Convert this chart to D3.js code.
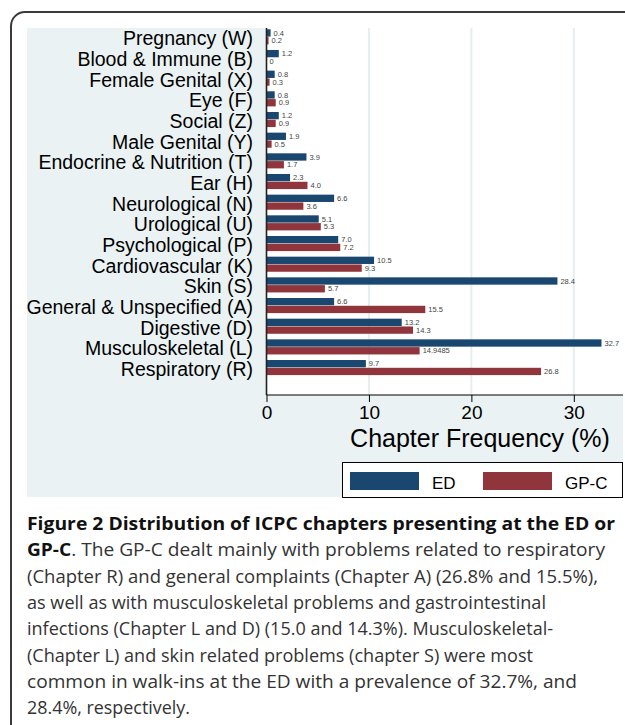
<!DOCTYPE html>
<html>
<head>
<meta charset="utf-8"/>
<title>ICPC chapters</title>
<script src="https://cdn.jsdelivr.net/npm/d3@7"></script>
<style>
html, body {
    margin: 0;
    padding: 0;
    background: #ffffff;
}
svg text {
    font-family: "Liberation Sans", Arial, sans-serif;
}
svg .caption {
    font-family: "Open Sans", "Noto Sans", sans-serif;
}
</style>
</head>
<body>

<svg id="chart" width="625" height="725"></svg>

<script>

// Chart data, top to bottom as drawn.
var categories = [
    "Pregnancy (W)", "Blood & Immune (B)", "Female Genital (X)", "Eye (F)",
    "Social (Z)", "Male Genital (Y)", "Endocrine & Nutrition (T)", "Ear (H)",
    "Neurological (N)", "Urological (U)", "Psychological (P)", "Cardiovascular (K)",
    "Skin (S)", "General & Unspecified (A)", "Digestive (D)", "Musculoskeletal (L)",
    "Respiratory (R)"
];
var edValues  = [0.4, 1.2, 0.8, 0.8, 1.2, 1.9, 3.9, 2.3, 6.6, 5.1, 7.0, 10.5, 28.4, 6.6, 13.2, 32.7, 9.7];
var gpcValues = [0.2, 0, 0.3, 0.9, 0.9, 0.5, 1.7, 4.0, 3.6, 5.3, 7.2, 9.3, 5.7, 15.5, 14.3, 14.9485, 26.8];
// bar labels as printed on the figure
var edLabels  = ["0.4", "1.2", "0.8", "0.8", "1.2", "1.9", "3.9", "2.3", "6.6", "5.1", "7.0", "10.5", "28.4", "6.6", "13.2", "32.7", "9.7"];
var gpcLabels = ["0.2", "0", "0.3", "0.9", "0.9", "0.5", "1.7", "4.0", "3.6", "5.3", "7.2", "9.3", "5.7", "15.5", "14.3", "14.9485", "26.8"];
var seriesNames = ["ED", "GP-C"];
var xTicks = [0, 10, 20, 30];
var axisTitle = "Chapter Frequency (%)";

var captionLines = [
    [{t: "Figure 2 Distribution of ICPC chapters presenting at the ED or", b: true}],
    [{t: "GP-C", b: true}, {t: ". The GP-C dealt mainly with problems related to respiratory", b: false}],
    [{t: "(Chapter R) and general complaints (Chapter A) (26.8% and 15.5%),", b: false}],
    [{t: "as well as with musculoskeletal problems and gastrointestinal", b: false}],
    [{t: "infections (Chapter L and D) (15.0 and 14.3%). Musculoskeletal-", b: false}],
    [{t: "(Chapter L) and skin related problems (chapter S) were most", b: false}],
    [{t: "common in walk-ins at the ED with a prevalence of 32.7%, and", b: false}],
    [{t: "28.4%, respectively.", b: false}]
];
var captionEnds = [615, 605, 598, 546, 553, 533, 577, 190];

const colors = {"ED": "#1a476f", "GP-C": "#90353b"};

var svg = d3.select("#chart");

// Outer figure frame (runs off the right and bottom edges).
svg.append("rect")
    .attr("x", 11).attr("y", 12)
    .attr("width", 660).attr("height", 760)
    .attr("rx", 14).attr("ry", 14)
    .attr("fill", "none")
    .attr("stroke", "#3a3a3a")
    .attr("stroke-width", 2);

// Graph region background.
svg.append("rect")
    .attr("x", 27).attr("y", 28)
    .attr("width", 596).attr("height", 469)
    .attr("fill", "#eaf2f3");

// Plot area.
const plot = {left: 266.5, right: 623, top: 28, bottom: 395};
svg.append("rect")
    .attr("x", plot.left).attr("y", plot.top)
    .attr("width", plot.right - plot.left).attr("height", plot.bottom - plot.top)
    .attr("fill", "#ffffff");

// Scales.
var x = d3.scaleLinear().domain([0, 34.8]).range([plot.left, plot.right]);
var y = d3.scaleBand().domain(categories).range([26.5, 377.9]).paddingInner(0.27).paddingOuter(0.135);
var y1 = d3.scaleBand().domain(seriesNames).range([0, y.bandwidth()]).paddingInner(0.06);

// Gridlines.
svg.append("g")
    .selectAll("line")
    .data(xTicks.filter(d => d > 0))
    .join("line")
    .attr("x1", d => x(d)).attr("x2", d => x(d))
    .attr("y1", plot.top).attr("y2", plot.bottom)
    .attr("stroke", "#e6eef0")
    .attr("stroke-width", 2);

// Bars.
var rows = categories.map(function(c, i) {
    return {cat: c, vals: [
        {s: "ED", v: edValues[i], label: edLabels[i]},
        {s: "GP-C", v: gpcValues[i], label: gpcLabels[i]}
    ]};
});

var groups = svg.append("g")
    .selectAll("g")
    .data(rows)
    .join("g")
    .attr("transform", d => "translate(0," + y(d.cat) + ")");

groups.selectAll("rect")
    .data(d => d.vals)
    .join("rect")
    .attr("x", x(0))
    .attr("y", d => y1(d.s))
    .attr("width", d => x(d.v) - x(0))
    .attr("height", y1.bandwidth())
    .attr("fill", d => colors[d.s]);

groups.selectAll("text")
    .data(d => d.vals)
    .join("text")
    .attr("x", d => x(d.v) + 3)
    .attr("y", d => y1(d.s) + y1.bandwidth() / 2)
    .attr("dy", "0.35em")
    .style("font-size", "7.5px")
    .attr("fill", "#444444")
    .text(d => d.label);

// Category labels.
svg.append("g")
    .selectAll("text")
    .data(categories)
    .join("text")
    .attr("x", 253)
    .attr("y", d => y(d) + y.bandwidth() / 2 + 8.5)
    .attr("text-anchor", "end")
    .style("font-size", "19.5px")
    .attr("fill", "#000000")
    .text(d => d);

// Y axis line.
svg.append("line")
    .attr("x1", plot.left).attr("x2", plot.left)
    .attr("y1", plot.top).attr("y2", plot.bottom)
    .attr("stroke", "#222222")
    .attr("stroke-width", 1.6);

// X axis.
var xAxis = svg.append("g")
    .attr("transform", "translate(0," + plot.bottom + ")")
    .call(d3.axisBottom(x).tickValues(xTicks).tickSize(7).tickPadding(4).tickFormat(d3.format("d")));
xAxis.select(".domain")
    .attr("d", "M" + plot.left + ",0H" + plot.right)
    .attr("stroke", "#000000")
    .attr("stroke-width", 1.2);
xAxis.selectAll(".tick line").attr("stroke", "#000000");
xAxis.selectAll(".tick text")
    .attr("fill", "#000000")
    .style("font-size", "19px")
    .style("font-family", "'Liberation Sans', Arial, sans-serif");

// Axis title.
svg.append("text")
    .attr("x", 480)
    .attr("y", 447)
    .attr("text-anchor", "middle")
    .style("font-size", "25px")
    .attr("fill", "#000000")
    .text(axisTitle);

// Legend.
var legend = svg.append("g");
legend.append("rect")
    .attr("x", 342.5).attr("y", 462.5)
    .attr("width", 280).attr("height", 35)
    .attr("fill", "#ffffff")
    .attr("stroke", "#000000")
    .attr("stroke-width", 1);
var legendX = [350, 483];
seriesNames.forEach(function(s, i) {
    legend.append("rect")
        .attr("x", legendX[i]).attr("y", 472)
        .attr("width", 69).attr("height", 18)
        .attr("fill", colors[s]);
    legend.append("text")
        .attr("x", legendX[i] + 82)
        .attr("y", 488.5)
        .style("font-size", "17px")
        .attr("fill", "#000000")
        .text(s);
});

// Caption.
var caption = svg.append("g");
captionLines.forEach(function(line, i) {
    var t = caption.append("text")
        .attr("class", "caption")
        .attr("x", 27)
        .attr("y", 530 + i * 26.3)
        .attr("textLength", captionEnds[i] - 27)
        .attr("lengthAdjust", "spacingAndGlyphs")
        .style("font-size", "18px");
    line.forEach(function(part) {
        t.append("tspan")
            .attr("font-weight", part.b ? "bold" : "normal")
            .attr("fill", part.b ? "#111111" : "#333333")
            .text(part.t);
    });
});

</script>

</body>
</html>
